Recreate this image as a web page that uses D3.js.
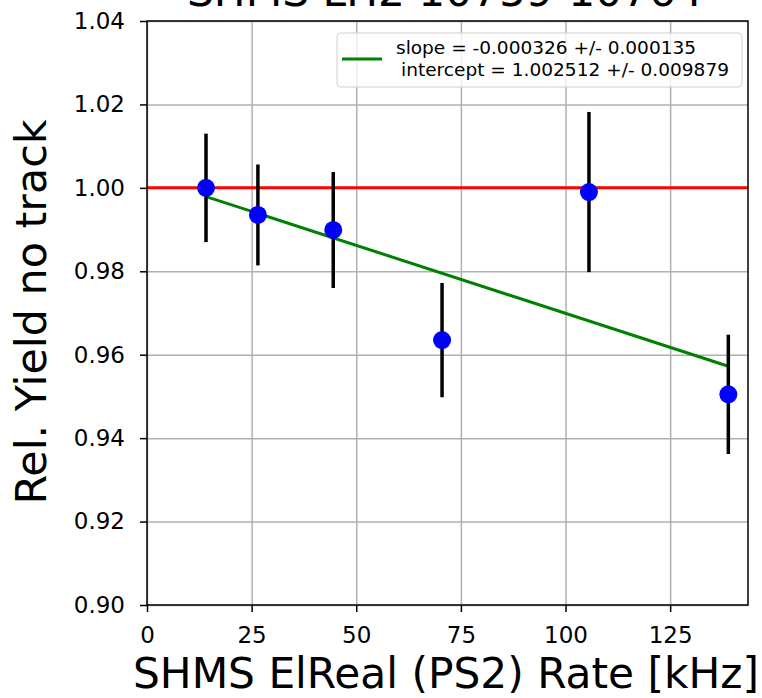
<!DOCTYPE html>
<html>
<head>
<meta charset="utf-8">
<script src="https://cdn.jsdelivr.net/npm/d3@7"></script>
<style>
  body { margin: 0; background: #fff; }
  text { font-family: "DejaVu Sans", sans-serif; fill: #000; }
  .grid line { stroke: #b0b0b0; stroke-width: 1.5; }
  .grid path { display: none; }
</style>
</head>
<body>
<div id="chart"></div>
<script>
// measured values
let rate = [14.1, 26.5, 44.5, 70.5, 105.6, 138.9]
let relYield = [1.0000, 0.9935, 0.9899, 0.9635, 0.9990, 0.9505]
let yieldErr = [0.0130, 0.0121, 0.0139, 0.0137, 0.0192, 0.0143]
let xTicks = [0, 25, 50, 75, 100, 125]
let yTicks = [0.90, 0.92, 0.94, 0.96, 0.98, 1.00, 1.02, 1.04]
let slope = -0.000326
let intercept = 1.002512
let legendLines = ["slope = -0.000326 +/- 0.000135", " intercept = 1.002512 +/- 0.009879"]
let title = "SHMS LH2 10759-10764"
let xlabel = "SHMS ElReal (PS2) Rate [kHz]"
let ylabel = "Rel. Yield no track"

let margin = {top: 21, bottom: 93, left: 147, right: 14}
let width = 762
let height = 698
let w = width - (margin.left + margin.right)
let h = height - (margin.top + margin.bottom)

let data = rate.map((x, i) => ({x: x, y: relYield[i], e: yieldErr[i]}))

let svg = d3.select("#chart").append("svg")
    .attr("width", width)
    .attr("height", height)

let xScale = d3.scaleLinear().domain([0, 143.6]).range([0, w])
let yScale = d3.scaleLinear().domain([0.90, 1.04]).range([h, 0])

let plot = svg.append("g")
    .attr("transform", "translate(" + margin.left + "," + margin.top + ")")

// grid
plot.append("g").attr("class", "grid")
    .attr("transform", "translate(0," + h + ")")
    .call(d3.axisBottom(xScale).tickValues(xTicks).tickSize(-h).tickFormat(""))
plot.append("g").attr("class", "grid")
    .call(d3.axisLeft(yScale).tickValues(yTicks).tickSize(-w).tickFormat(""))

// reference line at 1
plot.append("line")
    .attr("x1", 0).attr("x2", w)
    .attr("y1", yScale(1)).attr("y2", yScale(1))
    .attr("stroke", "#ff0000").attr("stroke-width", 3)

// fit line
let x0 = d3.min(rate), x1 = d3.max(rate)
plot.append("line")
    .attr("x1", xScale(x0)).attr("x2", xScale(x1))
    .attr("y1", yScale(intercept + slope * x0)).attr("y2", yScale(intercept + slope * x1))
    .attr("stroke", "#008000").attr("stroke-width", 3)

// error bars
plot.selectAll(".err").data(data).enter().append("line")
    .attr("x1", d => xScale(d.x)).attr("x2", d => xScale(d.x))
    .attr("y1", d => yScale(d.y - d.e)).attr("y2", d => yScale(d.y + d.e))
    .attr("stroke", "#000").attr("stroke-width", 3.5)

plot.selectAll(".dot").data(data).enter().append("circle")
    .attr("cx", d => xScale(d.x))
    .attr("cy", d => yScale(d.y))
    .attr("r", 9)
    .attr("fill", "#0000ff")

// axes
let xAxis = plot.append("g")
    .attr("transform", "translate(0," + h + ")")
    .call(d3.axisBottom(xScale).tickValues(xTicks).tickSize(7).tickPadding(15).tickFormat(d3.format("d")))
let yAxis = plot.append("g")
    .call(d3.axisLeft(yScale).tickValues(yTicks).tickSize(7).tickPadding(15).tickFormat(d3.format(".2f")))
for (let ax of [xAxis, yAxis]) {
    ax.select(".domain").remove()
    ax.selectAll(".tick line").attr("stroke", "#000").attr("stroke-width", 1.5)
    ax.selectAll("text").style("font-size", "23px").style("font-family", "DejaVu Sans")
}

plot.append("rect")
    .attr("width", w).attr("height", h)
    .attr("fill", "none").attr("stroke", "#000").attr("stroke-width", 1.5)

// legend
let legend = plot.append("g").attr("transform", "translate(" + (337 - margin.left) + "," + (33 - margin.top) + ")")
legend.append("rect")
    .attr("width", 405).attr("height", 54).attr("rx", 4)
    .attr("fill", "#fff").attr("fill-opacity", 0.8)
    .attr("stroke", "#d0d0d0").attr("stroke-width", 1)
legend.append("line")
    .attr("x1", 5).attr("x2", 45).attr("y1", 26).attr("y2", 26)
    .attr("stroke", "#008000").attr("stroke-width", 3)
legend.append("text")
    .attr("x", 59).attr("y", 21)
    .attr("textLength", 300).attr("lengthAdjust", "spacingAndGlyphs")
    .style("font-size", "17px")
    .text(legendLines[0])
legend.append("text")
    .attr("x", 64).attr("y", 43)
    .attr("textLength", 328).attr("lengthAdjust", "spacingAndGlyphs")
    .style("font-size", "17px")
    .text(legendLines[1].trim())

// labels
svg.append("text")
    .attr("x", 446).attr("y", 688)
    .attr("text-anchor", "middle")
    .attr("textLength", 626).attr("lengthAdjust", "spacingAndGlyphs")
    .style("font-size", "42px")
    .text(xlabel)

svg.append("text")
    .attr("text-anchor", "middle")
    .attr("transform", "translate(46,312) rotate(-90)")
    .attr("textLength", 385).attr("lengthAdjust", "spacingAndGlyphs")
    .style("font-size", "42px")
    .text(ylabel)

svg.append("text")
    .attr("x", 445).attr("y", 6)
    .attr("text-anchor", "middle")
    .attr("textLength", 516).attr("lengthAdjust", "spacingAndGlyphs")
    .style("font-size", "42px")
    .text(title)
</script>
</body>
</html>
